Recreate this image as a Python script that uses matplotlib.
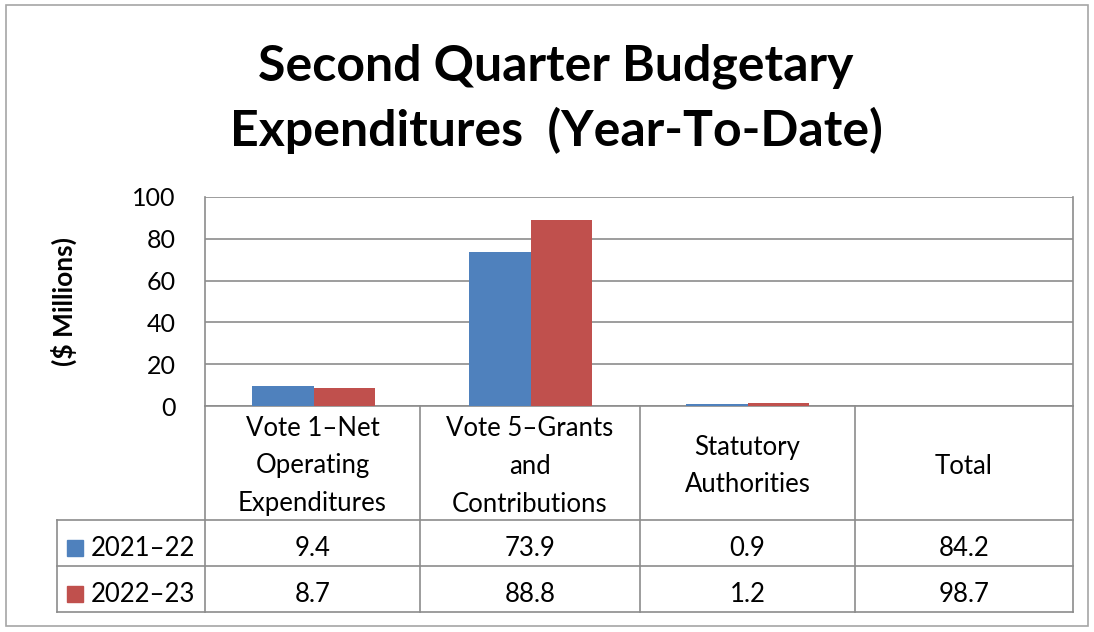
import numpy as np
import matplotlib.pyplot as plt
from matplotlib.patches import Rectangle

plt.rcParams['font.family'] = ['Lato', 'DejaVu Sans']

categories = ["Vote 1\u2013Net\nOperating\nExpenditures",
              "Vote 5\u2013Grants\nand\nContributions",
              "Statutory\nAuthorities",
              "Total"]
series = ["2021\u201322", "2022\u201323"]
values_2021 = [9.4, 73.9, 0.9, 84.2]
values_2022 = [8.7, 88.8, 1.2, 98.7]
# the Total column is only shown in the table, not as bars
plotted = [True, True, True, False]
colors = ["#4F81BD", "#C0504D"]
grid_color = "#8C8C8C"

W, H = 1094, 632
fig = plt.figure(figsize=(W / 100, H / 100), dpi=100)

# overlay axes in pixel units for the frame and the data table
bg = fig.add_axes([0, 0, 1, 1])
bg.set_xlim(0, W)
bg.set_ylim(H, 0)
bg.axis("off")

bg.add_patch(Rectangle((6, 5), 1082, 621, fill=False, ec="#A6A6A6", lw=1.2))

bg.text(556, 66, "Second Quarter Budgetary", ha="center", va="center",
        fontsize=36, fontweight="bold")
bg.text(556, 130, "Expenditures  (Year-To-Date)", ha="center", va="center",
        fontsize=36, fontweight="bold")

# plot area
left, right, top, bottom = 205, 1073, 197, 406
ax = fig.add_axes([left / W, 1 - bottom / H, (right - left) / W, (bottom - top) / H])
x = np.arange(len(categories))
w = 0.285
v1 = [v if p else np.nan for v, p in zip(values_2021, plotted)]
v2 = [v if p else np.nan for v, p in zip(values_2022, plotted)]
ax.bar(x - w / 2, v1, width=w, color=colors[0], zorder=3)
ax.bar(x + w / 2, v2, width=w, color=colors[1], zorder=3)
ax.set_xlim(-0.5, len(categories) - 0.5)
ax.set_ylim(0, 100)
ax.set_yticks(range(0, 101, 20))
ax.yaxis.grid(True, color=grid_color, lw=1.2, zorder=0)
ax.set_xticks([])
ax.tick_params(axis="y", length=0, labelsize=18, pad=21)
for s in ["top", "bottom"]:
    ax.spines[s].set_visible(False)
for s in ["left", "right"]:
    ax.spines[s].set_color(grid_color)
    ax.spines[s].set_linewidth(1.2)
ax.patch.set_alpha(0)
bg.text(64, 302, "($ Millions)", rotation=90, ha="center", va="center",
        fontsize=19, fontweight="bold")

# table
col_edges = [205, 420, 640, 855, 1073]
row_edges = [406, 520, 566, 612]
lc = dict(color=grid_color, lw=1.2)
for y in row_edges[1:]:
    bg.plot([57, 1073], [y, y], **lc)
bg.plot([205, 1073], [406, 406], **lc)
for xe in col_edges[1:-1]:
    bg.plot([xe, xe], [406, 612], **lc)
bg.plot([205, 205], [406, 612], **lc)
bg.plot([1073, 1073], [406, 612], **lc)
bg.plot([57, 57], [520, 612], **lc)

fs = 18.5
for i, cat in enumerate(categories):
    cx = (col_edges[i] + col_edges[i + 1]) / 2
    bg.text(cx, 466, cat, ha="center", va="center", fontsize=fs, linespacing=1.65)
    bg.text(cx, 548, f"{values_2021[i]:.1f}", ha="center", va="center", fontsize=fs)
    bg.text(cx, 594, f"{values_2022[i]:.1f}", ha="center", va="center", fontsize=fs)

for j, (name, c) in enumerate(zip(series, colors)):
    cy = 548 + j * 46
    bg.add_patch(Rectangle((67, cy - 8), 16, 16, color=c))
    bg.text(91, cy, name, ha="left", va="center", fontsize=fs)

fig.savefig("out.png", dpi=100)
